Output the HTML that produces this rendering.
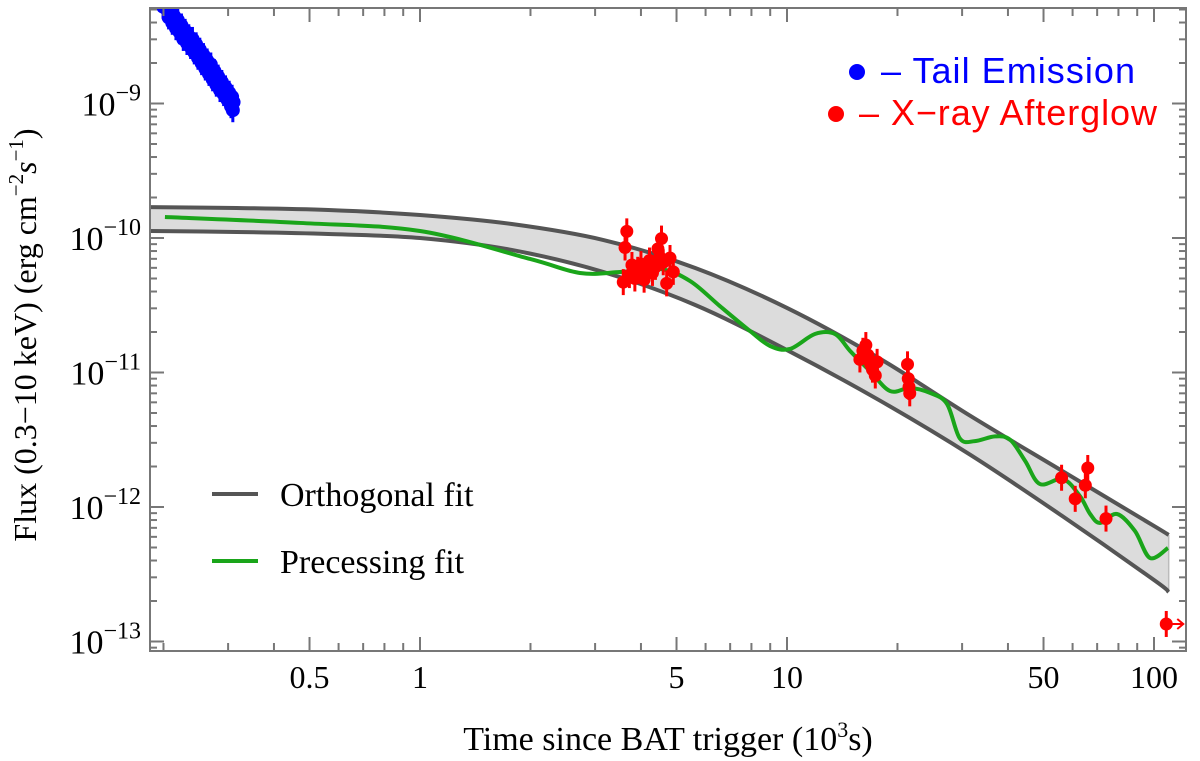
<!DOCTYPE html>
<html><head><meta charset="utf-8"><style>
body{margin:0;background:#fff}
svg{display:block}
text{font-family:"Liberation Serif",serif}
</style></head><body>
<svg id="chart" width="1200" height="761" viewBox="0 0 1200 761" xmlns="http://www.w3.org/2000/svg">
<defs><clipPath id="plotclip"><rect x="150" y="8" width="1036" height="643"/></clipPath></defs>
<g id="band" clip-path="url(#plotclip)"></g>
<g id="marks" clip-path="url(#plotclip)"></g>
<g id="axes"></g>
<rect x="150" y="8" width="1036" height="643" fill="none" stroke="#777" stroke-width="2"/>
<text x="668" y="750" font-size="34" text-anchor="middle">Time since BAT trigger (10<tspan dy="-13" font-size="22">3</tspan><tspan dy="13">s)</tspan></text>
<text transform="translate(36,335) rotate(-90)" font-size="32" text-anchor="middle">Flux (0.3−10 keV) (erg cm<tspan dy="-13" font-size="21">−2</tspan><tspan dy="13" font-style="italic">s</tspan><tspan dy="-13" font-size="21">−1</tspan><tspan dy="13">)</tspan></text>
<g>
<line x1="212" y1="494" x2="258" y2="494" stroke="#555" stroke-width="4"/>
<text x="280" y="506" font-size="34">Orthogonal fit</text>
<line x1="212" y1="561" x2="258" y2="561" stroke="#1aa51a" stroke-width="4"/>
<text x="280" y="573" font-size="34">Precessing fit</text>
</g>
<g>
<circle cx="857" cy="72" r="8" fill="#0000ff"/>
<text x="881" y="83" font-size="36" fill="#0000ff" style="font-family:'Liberation Sans',sans-serif" textLength="254">– Tail Emission</text>
<circle cx="836" cy="114" r="8" fill="#ff0000"/>
<text x="859" y="125" font-size="36" fill="#ff0000" style="font-family:'Liberation Sans',sans-serif" textLength="298">– X−ray Afterglow</text>
</g>
</svg>
<script>
const sampleLogT=[-0.75,-0.5,-0.25,0,0.25,0.5,0.75,1,1.25,1.5,1.75,2,2.04];
const upperLogF=[-9.770,-9.777,-9.792,-9.829,-9.896,-10.015,-10.223,-10.520,-10.892,-11.323,-11.732,-12.141,-12.208];
const lowerLogF=[-9.948,-9.955,-9.970,-10.000,-10.089,-10.253,-10.498,-10.833,-11.204,-11.613,-12.067,-12.543,-12.632];
const precLogT=[-0.695,-0.327,0,0.300,0.436,0.545,0.654,0.736,0.817,0.899,0.954,1.008,1.076,1.131,1.172,1.226,1.281,1.335,1.390,1.436,1.471,1.512,1.567,1.608,1.649,1.689,1.752,1.798,1.826,1.853,1.899,1.948,1.989,2.038];
const precLogF=[-9.844,-9.888,-9.948,-10.156,-10.260,-10.253,-10.230,-10.320,-10.506,-10.691,-10.803,-10.825,-10.714,-10.714,-10.840,-10.989,-11.138,-11.115,-11.152,-11.234,-11.490,-11.510,-11.475,-11.500,-11.658,-11.829,-11.792,-11.918,-12.052,-12.119,-12.052,-12.178,-12.379,-12.305];
const xrayT=[3.58,3.62,3.66,3.72,3.78,3.85,3.92,4.0,4.08,4.15,4.22,4.3,4.38,4.45,4.5,4.55,4.6,4.7,4.8,4.9,15.8,16.1,16.4,16.6,16.9,17.1,17.4,17.6,21.3,21.4,21.5,21.6,56,61,65,66,74,108];
const xrayF=[4.7e-11,8.5e-11,1.12e-10,5.3e-11,6.3e-11,5.0e-11,5.8e-11,6.4e-11,4.9e-11,5.6e-11,6.8e-11,5.5e-11,6.1e-11,8.3e-11,7.2e-11,9.9e-11,6.6e-11,4.6e-11,7.1e-11,5.6e-11,1.25e-11,1.45e-11,1.6e-11,1.35e-11,1.15e-11,1.05e-11,9.5e-12,1.2e-11,1.15e-11,9.0e-12,7.8e-12,7.0e-12,1.65e-12,1.15e-12,1.45e-12,1.95e-12,8.2e-13,1.35e-13];
const tailLogT=[-0.70,-0.69,-0.685,-0.68,-0.675,-0.67,-0.665,-0.66,-0.655,-0.65,-0.645,-0.64,-0.635,-0.63,-0.625,-0.62,-0.615,-0.61,-0.605,-0.60,-0.595,-0.59,-0.585,-0.58,-0.575,-0.57,-0.565,-0.56,-0.555,-0.55,-0.545,-0.54,-0.535,-0.53,-0.525,-0.52,-0.515,-0.512,-0.51,-0.508];
const tailLogF=[-8.28,-8.30,-8.36,-8.32,-8.40,-8.35,-8.44,-8.38,-8.47,-8.42,-8.52,-8.46,-8.55,-8.50,-8.58,-8.52,-8.62,-8.56,-8.66,-8.60,-8.70,-8.64,-8.74,-8.68,-8.78,-8.71,-8.82,-8.76,-8.86,-8.80,-8.90,-8.84,-8.93,-8.88,-8.97,-8.92,-9.02,-8.95,-9.05,-8.99];
const xTickVals=[0.5,1,5,10,50,100];
const xTickLabels=["0.5","1","5","10","50","100"];
const yTickExp=[-13,-12,-11,-10,-9];

const NS="http://www.w3.org/2000/svg";
function X(lt){return 420+367*lt;}
function xT(t){return X(Math.log10(t));}
function Y(lf){return 238-134.5*(lf+10);}
function yF(f){return Y(Math.log10(f));}
function mk(tag,attrs,parent){const e=document.createElementNS(NS,tag);for(const k in attrs)e.setAttribute(k,attrs[k]);parent.appendChild(e);return e;}
const band=document.getElementById('band'),marks=document.getElementById('marks'),axes=document.getElementById('axes');

function smooth(pts){let d='M'+pts[0][0]+','+pts[0][1];for(let i=1;i<pts.length;i++){const p0=pts[i-2]||pts[i-1],p1=pts[i-1],p2=pts[i],p3=pts[i+1]||p2;d+=' C'+(p1[0]+(p2[0]-p0[0])/6)+','+(p1[1]+(p2[1]-p0[1])/6)+' '+(p2[0]-(p3[0]-p1[0])/6)+','+(p2[1]-(p3[1]-p1[1])/6)+' '+p2[0]+','+p2[1];}return d;}
const up=sampleLogT.map((t,i)=>[X(t),Y(upperLogF[i])]);
const lo=sampleLogT.map((t,i)=>[X(t),Y(lowerLogF[i])]);
const uPath=smooth(up),lPath=smooth(lo);
const loRev=lo.slice().reverse();
let fill=mk('path',{d:uPath+' L'+loRev[0][0]+','+loRev[0][1]+' '+smooth(loRev).slice(1)+' Z',fill:'#dcdcdc',stroke:'none'},band);


let edge=mk('line',{x1:up[up.length-1][0],x2:lo[lo.length-1][0],y1:up[up.length-1][1],y2:lo[lo.length-1][1],stroke:'#bbb','stroke-width':1.5},band);


let ul=mk('path',{d:uPath,fill:'none',stroke:'#555','stroke-width':4},band);


let ll=mk('path',{d:lPath,fill:'none',stroke:'#555','stroke-width':4},band);


let pl=mk('path',{d:smooth(precLogT.map((t,i)=>[X(t),Y(precLogF[i])])),fill:'none',stroke:'#1aa51a','stroke-width':4},band);



tailLogT.forEach((t,i)=>{const x=X(t),y=Y(tailLogF[i]);
 const g=mk('g',{},marks);
 
 
 mk('line',{x1:x,x2:x,y1:y-12,y2:y+12,stroke:'#0000ff','stroke-width':3},g);
 mk('circle',{cx:x,cy:y,r:7,fill:'#0000ff'},g);});
xrayT.forEach((t,i)=>{const x=xT(t),y=yF(xrayF[i]);
 const g=mk('g',{},marks);
 
 
 mk('line',{x1:x,x2:x,y1:y-13,y2:y+13,stroke:'#ff0000','stroke-width':3},g);
 mk('circle',{cx:x,cy:y,r:6.5,fill:'#ff0000'},g);
 if(i===xrayT.length-1){mk('path',{d:`M${x} ${y} H${x+17} M${x+11} ${y-5} L${x+17} ${y} L${x+11} ${y+5}`,stroke:'#ff0000','stroke-width':2,fill:'none'},g);}});

for(let e=-1;e<=2;e++)for(let m=1;m<=9;m++){const t=m*Math.pow(10,e);const x=xT(t);if(x<151||x>1185)continue;
 const major=xTickVals.includes(+t.toPrecision(3));const L=major?14:8;
 mk('line',{x1:x,x2:x,y1:651,y2:651-L,stroke:'#777','stroke-width':2},axes);
 mk('line',{x1:x,x2:x,y1:8,y2:8+L,stroke:'#777','stroke-width':2},axes);}
xTickVals.forEach((t,i)=>{const tx=mk('text',{x:xT(t),y:688,'font-size':32,'text-anchor':'middle'},axes);tx.textContent=xTickLabels[i];
 
 });
for(let e=-14;e<=-9;e++)for(let m=1;m<=9;m++){const lf=e+Math.log10(m);const y=Y(lf);if(y<9||y>650)continue;
 const L=m===1?14:7;
 mk('line',{x1:150,x2:150+L,y1:y,y2:y,stroke:'#777','stroke-width':2},axes);
 mk('line',{x1:1186,x2:1186-L,y1:y,y2:y,stroke:'#777','stroke-width':2},axes);}
yTickExp.forEach(e=>{const y=Y(e);const tx=mk('text',{x:141,y:y+12,'font-size':34,'text-anchor':'end'},axes);
 
 
 tx.innerHTML='10<tspan dy="-15" font-size="24">−'+(-e)+'</tspan>';});
</script>
</body></html>
